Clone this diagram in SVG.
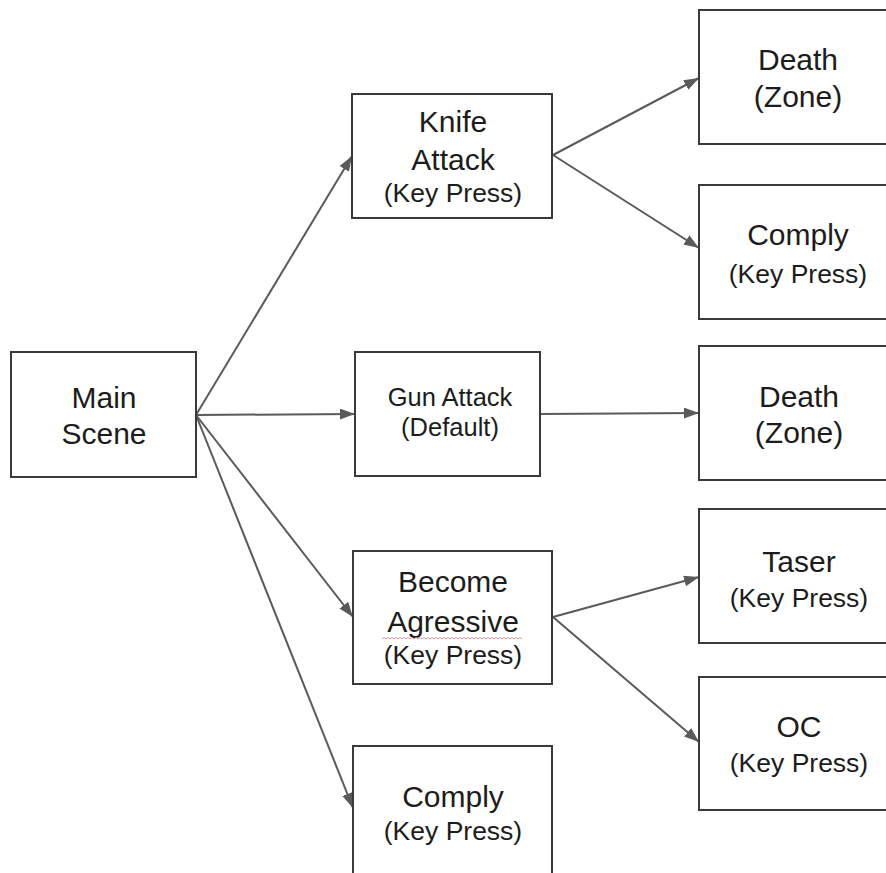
<svg xmlns="http://www.w3.org/2000/svg" width="886" height="873" viewBox="0 0 886 873">
<style>
.box{fill:#fff;stroke:#3a3a3a;stroke-width:2}
.t{font-family:"Liberation Sans",Arial,sans-serif;fill:#1c1c1c;text-anchor:middle}
.big{font-size:30px}
.sm{font-size:26.5px}
.mid{font-size:25.5px}
.c{stroke:#5a5a5a;stroke-width:2;fill:none;marker-end:url(#ah)}
</style>
<defs>
<marker id="ah" markerUnits="userSpaceOnUse" markerWidth="15" markerHeight="11" refX="15" refY="5.5" orient="auto">
<path d="M0,0 L15,5.5 L0,11 z" fill="#5a5a5a"/>
</marker>
</defs>
<rect width="886" height="873" fill="#fff"/>
<g id="connectors">
<line class="c" x1="196" y1="415" x2="352" y2="156"/>
<line class="c" x1="196" y1="415" x2="355" y2="414"/>
<line class="c" x1="196" y1="415" x2="353" y2="617"/>
<line class="c" x1="196" y1="415" x2="353" y2="808"/>
<line class="c" x1="553" y1="155" x2="699" y2="78"/>
<line class="c" x1="553" y1="155" x2="699" y2="248"/>
<line class="c" x1="540" y1="414" x2="699" y2="413"/>
<line class="c" x1="553" y1="617" x2="699" y2="577"/>
<line class="c" x1="553" y1="617" x2="699" y2="742"/>
</g>
<g id="main-scene">
<rect class="box" x="11" y="352" width="185" height="125"/>
<text class="t big" x="104" y="408">Main</text>
<text class="t big" x="104" y="444">Scene</text>
</g>
<g id="knife-attack">
<rect class="box" x="352" y="94" width="200" height="124"/>
<text class="t big" x="453" y="132">Knife</text>
<text class="t big" x="453" y="170">Attack</text>
<text class="t sm" x="453" y="202">(Key Press)</text>
</g>
<g id="gun-attack">
<rect class="box" x="355" y="352" width="185" height="124"/>
<text class="t mid" x="450" y="406">Gun Attack</text>
<text class="t mid" x="450" y="436">(Default)</text>
</g>
<g id="become-agressive">
<rect class="box" x="353" y="551" width="199" height="133"/>
<text class="t big" x="453" y="592">Become</text>
<text class="t big" x="453" y="632">Agressive</text>
<path d="M382,639 l2,-1.5 2,1.5 2,-1.5 2,1.5 2,-1.5 2,1.5 2,-1.5 2,1.5 2,-1.5 2,1.5 2,-1.5 2,1.5 2,-1.5 2,1.5 2,-1.5 2,1.5 2,-1.5 2,1.5 2,-1.5 2,1.5 2,-1.5 2,1.5 2,-1.5 2,1.5 2,-1.5 2,1.5 2,-1.5 2,1.5 2,-1.5 2,1.5 2,-1.5 2,1.5 2,-1.5 2,1.5 2,-1.5 2,1.5 2,-1.5 2,1.5 2,-1.5 2,1.5 2,-1.5 2,1.5 2,-1.5 2,1.5 2,-1.5 2,1.5 2,-1.5 2,1.5 2,-1.5 2,1.5 2,-1.5 2,1.5 2,-1.5 2,1.5 2,-1.5 2,1.5 2,-1.5 2,1.5 2,-1.5 2,1.5 2,-1.5 2,1.5 2,-1.5 2,1.5 2,-1.5 2,1.5 2,-1.5 2,1.5 2,-1.5 2,1.5" fill="none" stroke="#d99" stroke-width="1"/>
<text class="t sm" x="453" y="664">(Key Press)</text>
</g>
<g id="comply-main">
<rect class="box" x="353" y="746" width="199" height="140"/>
<text class="t big" x="453" y="807">Comply</text>
<text class="t sm" x="453" y="840">(Key Press)</text>
</g>
<g id="death-knife">
<rect class="box" x="699" y="10" width="199" height="134"/>
<text class="t big" x="798" y="70">Death</text>
<text class="t big" x="798" y="107">(Zone)</text>
</g>
<g id="comply-knife">
<rect class="box" x="699" y="185" width="199" height="134"/>
<text class="t big" x="798" y="245">Comply</text>
<text class="t sm" x="798" y="283">(Key Press)</text>
</g>
<g id="death-gun">
<rect class="box" x="699" y="346" width="199" height="134"/>
<text class="t big" x="799" y="407">Death</text>
<text class="t big" x="799" y="443">(Zone)</text>
</g>
<g id="taser">
<rect class="box" x="699" y="509" width="199" height="134"/>
<text class="t big" x="799" y="572">Taser</text>
<text class="t sm" x="799" y="607">(Key Press)</text>
</g>
<g id="oc">
<rect class="box" x="699" y="677" width="199" height="133"/>
<text class="t big" x="799" y="737">OC</text>
<text class="t sm" x="799" y="772">(Key Press)</text>
</g>
</svg>
